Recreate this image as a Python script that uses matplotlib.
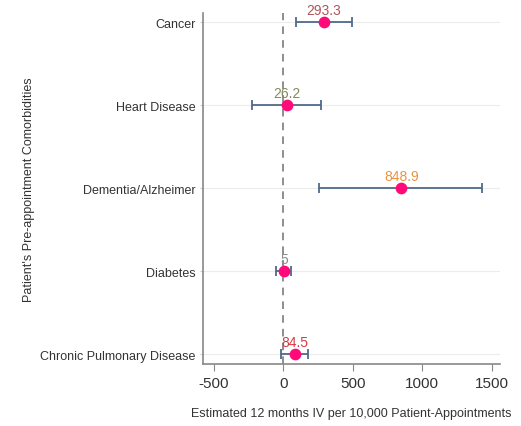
import matplotlib
matplotlib.use("Agg")
from matplotlib import pyplot as plt

# datos
categorias = ["Cancer", "Heart Disease", "Dementia/Alzheimer", "Diabetes",
              "Chronic Pulmonary Disease"]
estimado = [293.3, 26.2, 848.9, 5, 84.5]
li = [94, -223, 259, -50, -14]
ls = [496, 273, 1432, 58, 180]
etiquetas = ["293.3", "26.2", "848.9", "5", "84.5"]
colores_etq = ["#b0555a", "#86895e", "#e8943e", "#8c8c8c", "#d43a44"]
xticks = [-500, 0, 500, 1000, 1500]

plt.rcParams['font.family'] = ['Liberation Sans', 'DejaVu Sans']

fig = plt.figure(figsize=(5.21, 4.27), dpi=100)
ax = fig.add_axes([0.39, 0.145, 0.57, 0.822])

n = len(categorias)
ypos = [n - 1 - i for i in range(n)]

for y in ypos:
    ax.axhline(y, color="#ececec", lw=0.8, zorder=0)
ax.axvline(0, color="#707070", lw=1.1, ls=(0, (5, 4)), zorder=1)

err_lo = [e - a for e, a in zip(estimado, li)]
err_hi = [b - e for e, b in zip(estimado, ls)]
ax.errorbar(estimado, ypos, xerr=[err_lo, err_hi], fmt="none",
            ecolor="#4d6a8a", elinewidth=1.3, capsize=3.5, capthick=1.3, zorder=2)
ax.scatter(estimado, ypos, s=55, color="#ff0a78", zorder=3)

for x, y, t, c in zip(estimado, ypos, etiquetas, colores_etq):
    ax.annotate(t, (x, y), xytext=(0, 4), textcoords="offset points",
                ha="center", va="bottom", fontsize=10, color=c)

ax.set_yticks(ypos)
ax.set_yticklabels(categorias, fontsize=9, color="#333333")
ax.set_xticks(xticks)
ax.set_xticklabels([str(v) for v in xticks], fontsize=11, color="#333333")
ax.set_xlim(-576, 1561)
ax.set_ylim(-0.12, n - 1 + 0.11)

ax.set_xlabel("Estimated 12 months IV per 10,000 Patient-Appointments",
              fontsize=9, color="#333333", labelpad=12)
ax.set_ylabel("Patient's Pre-appointment Comorbidities", fontsize=9,
              color="#333333")
ax.yaxis.set_label_coords(-0.565, 0.5)

for s in ["top", "right"]:
    ax.spines[s].set_visible(False)
for s in ["left", "bottom"]:
    ax.spines[s].set_color("#888888")
    ax.spines[s].set_linewidth(1.2)
ax.tick_params(axis="x", length=5, color="#888888")
ax.tick_params(axis="y", length=2, color="#cccccc")

plt.savefig("out.png", dpi=100)
